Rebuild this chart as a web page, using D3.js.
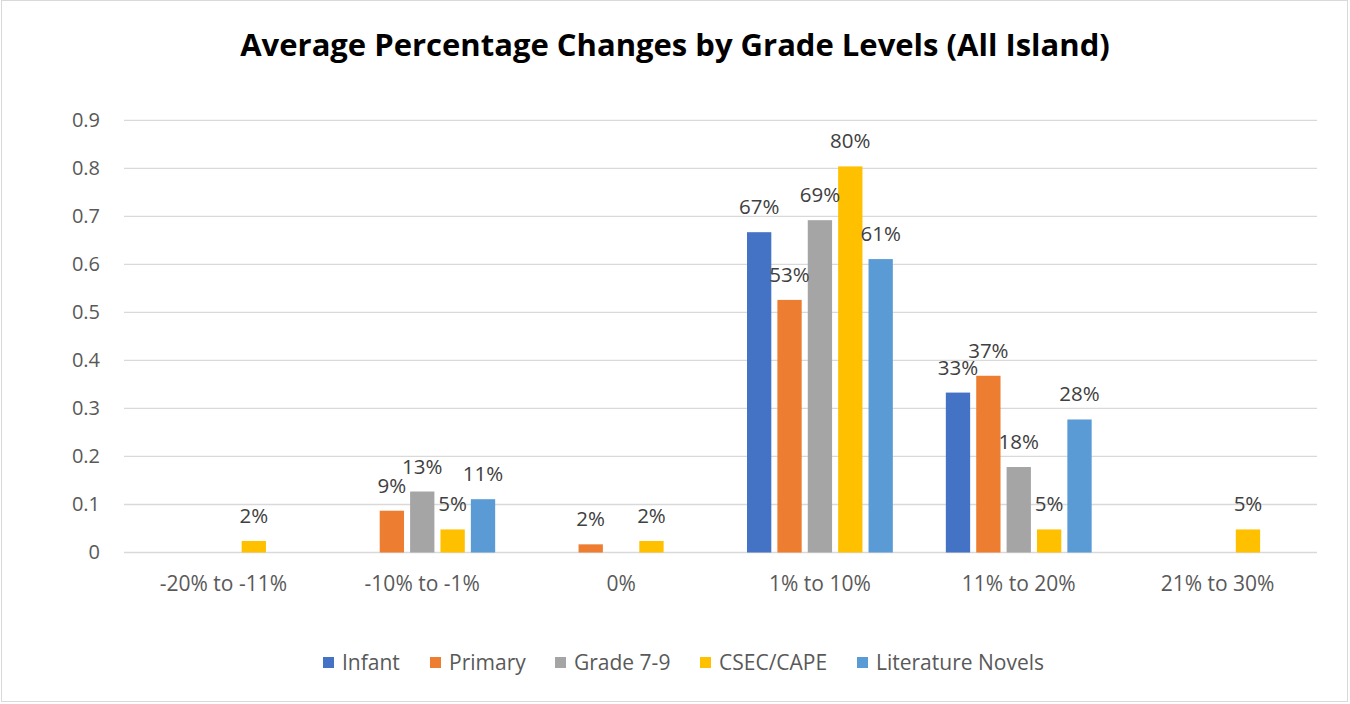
<!DOCTYPE html>
<html>
<head>
<meta charset="utf-8">
<script src="https://cdn.jsdelivr.net/npm/d3@7"></script>
<style>
  body { margin: 0; background: #fff; }
  text { font-family: "Open Sans", Lato, sans-serif; }
</style>
</head>
<body>
<div class="chart"></div>
<script>
var svgWidth = 1350;
var svgHeight = 704;

// categories and series
var categories = ["-20% to -11%", "-10% to -1%", "0%", "1% to 10%", "11% to 20%", "21% to 30%"];
var seriesNames = ["Infant", "Primary", "Grade 7-9", "CSEC/CAPE", "Literature Novels"];
var colors = ["#4472C4", "#ED7D31", "#A5A5A5", "#FFC000", "#5B9BD5"];

// values per series (null = no bar)
var infant     = [null, null,  null,  0.667, 0.333, null];
var primary    = [null, 0.087, 0.017, 0.526, 0.368, null];
var grade79    = [null, 0.127, null,  0.692, 0.178, null];
var csec       = [0.024, 0.048, 0.024, 0.804, 0.048, 0.048];
var literature = [null, 0.111, null,  0.611, 0.277, null];
var yTicks = [0, 0.1, 0.2, 0.3, 0.4, 0.5, 0.6, 0.7, 0.8, 0.9];

var seriesValues = [infant, primary, grade79, csec, literature];

var plot = { left: 124, right: 1317, top: 120.3, bottom: 552.5 };
var formatPercent = d3.format(".0%");

var svg = d3.select(".chart")
  .append("svg")
    .attr("width", svgWidth)
    .attr("height", svgHeight);

// outer border
svg.append("rect")
  .attr("x", 1.5).attr("y", 0.5)
  .attr("width", 1346).attr("height", 701)
  .attr("fill", "#fff")
  .attr("stroke", "#d9d9d9");

svg.append("text")
  .attr("x", 675)
  .attr("y", 56)
  .attr("text-anchor", "middle")
  .attr("font-size", 31)
  .attr("font-weight", "bold")
  .attr("fill", "#000")
  .text("Average Percentage Changes by Grade Levels (All Island)");

var y = d3.scaleLinear().domain([0, 0.9]).range([plot.bottom, plot.top]);
var x0 = d3.scaleBand().domain(categories).range([plot.left, plot.right]);
var x1 = d3.scaleBand().domain(seriesNames)
  .range([26.5, x0.bandwidth() - 26.5])
  .paddingInner(0.2);

// gridlines
svg.append("g")
  .selectAll("line")
  .data(yTicks)
  .enter().append("line")
    .attr("x1", plot.left)
    .attr("x2", plot.right)
    .attr("y1", function(d) { return y(d); })
    .attr("y2", function(d) { return y(d); })
    .attr("stroke", "#d9d9d9")
    .attr("stroke-width", 1.3);

// y axis labels
var yAxis = d3.axisLeft(y).tickValues(yTicks).tickSize(0).tickPadding(24)
  .tickFormat(function(d) { return d === 0 ? "0" : d3.format(".1f")(d); });
var gy = svg.append("g")
  .attr("transform", "translate(" + plot.left + ",0)")
  .call(yAxis);
gy.select(".domain").remove();
gy.selectAll("text")
  .attr("font-size", 20)
  .attr("fill", "#595959")
  .style("font-family", "'Open Sans', sans-serif");

// x axis labels
var xAxis = d3.axisBottom(x0).tickSize(0).tickPadding(23.5);
var gx = svg.append("g")
  .attr("transform", "translate(0," + plot.bottom + ")")
  .call(xAxis);
gx.select(".domain").remove();
gx.selectAll("text")
  .attr("font-size", 21)
  .attr("fill", "#595959")
  .style("font-family", "'Open Sans', sans-serif");

// bars
var rows = [];
seriesValues.forEach(function(vals, s) {
  vals.forEach(function(v, c) {
    if (v !== null) rows.push({ series: seriesNames[s], color: colors[s], cat: categories[c], value: v });
  });
});

var bars = svg.append("g");
bars.selectAll("rect")
  .data(rows)
  .enter().append("rect")
    .attr("x", function(d) { return x0(d.cat) + x1(d.series); })
    .attr("y", function(d) { return y(d.value); })
    .attr("width", x1.bandwidth())
    .attr("height", function(d) { return plot.bottom - y(d.value); })
    .attr("fill", function(d) { return d.color; });

bars.selectAll("text")
  .data(rows)
  .enter().append("text")
    .attr("x", function(d) { return x0(d.cat) + x1(d.series) + x1.bandwidth() / 2; })
    .attr("y", function(d) { return y(d.value) - 18; })
    .attr("text-anchor", "middle")
    .attr("font-size", 20.5)
    .attr("fill", "#404040")
    .text(function(d) { return formatPercent(d.value); });

// legend
var legendX = [323, 430, 555, 700, 857];
var legend = svg.append("g");
var items = legend.selectAll("g")
  .data(seriesNames)
  .enter().append("g")
    .attr("transform", function(d, i) { return "translate(" + legendX[i] + ",657)"; });
items.append("rect")
  .attr("width", 11).attr("height", 11)
  .attr("fill", function(d, i) { return colors[i]; });
items.append("text")
  .attr("x", 19)
  .attr("y", 12.5)
  .attr("font-size", 21)
  .attr("fill", "#595959")
  .text(function(d) { return d; });
</script>
</body>
</html>
